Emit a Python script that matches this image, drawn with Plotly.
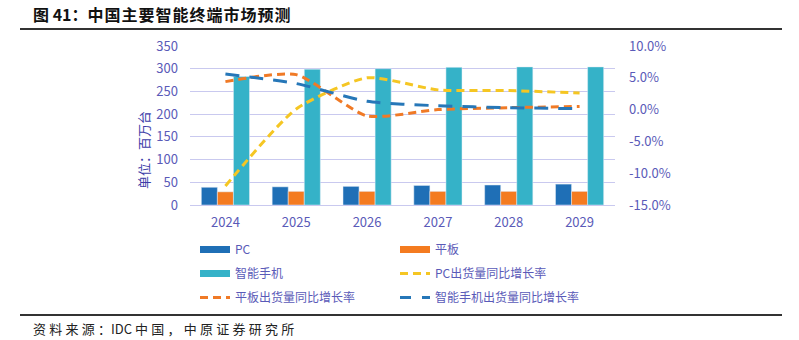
import plotly.graph_objects as go

years = ["2024", "2025", "2026", "2027", "2028", "2029"]
pc = [39, 40, 41, 43, 44, 46]
tablet = [29, 30, 30, 30, 30, 30]
phone = [283, 299, 300, 303, 304, 304]
pc_growth = [-12.0, 0.1, 5.0, 3.1, 3.0, 2.6]
tablet_growth = [4.4, 5.5, -1.0, 0.0, 0.3, 0.5]
phone_growth = [5.6, 4.1, 1.3, 0.6, 0.3, 0.15]

W, H = 799, 340
L, R, T, B = 190, 615, 46, 205

def px(x):
    return (x - L) / (R - L)

def py(y):
    return (B - y) / (B - T)

def spaced(s, sp="\u200a"):
    return sp.join(list(s))

C_PC = "#1f6fb6"
C_TAB = "#f47b20"
C_PHONE = "#35b2c8"
C_YEL = "#f5c623"
C_BLU = "#2677b8"
C_ORG = "#f07a26"
TXT = "#5a5ab8"
FONT = "Noto Sans CJK SC"

fig = go.Figure()
fig.add_trace(go.Bar(x=years, y=pc, marker_color=C_PC, showlegend=False, name="PC"))
fig.add_trace(go.Bar(x=years, y=tablet, marker_color=C_TAB, showlegend=False, name="平板"))
fig.add_trace(go.Bar(x=years, y=phone, marker_color=C_PHONE, showlegend=False, name="智能手机"))

SM = 0.6
fig.add_trace(go.Scatter(x=years, y=pc_growth, yaxis="y2", mode="lines",
                         line=dict(color=C_YEL, width=3, dash="8px,5px", shape="spline", smoothing=SM),
                         showlegend=False))
fig.add_trace(go.Scatter(x=years, y=tablet_growth, yaxis="y2", mode="lines",
                         line=dict(color=C_ORG, width=3, dash="8px,5px", shape="spline", smoothing=SM),
                         showlegend=False))
fig.add_trace(go.Scatter(x=years, y=phone_growth, yaxis="y2", mode="lines",
                         line=dict(color=C_BLU, width=3, dash="14px,10px", shape="spline", smoothing=SM),
                         showlegend=False))

# legend entries
leg = [
    ("PC", dict(color=C_PC, width=7), "legend", "g1"),
    ("平板", dict(color=C_TAB, width=7), "legend2", "g2"),
    ("智能手机", dict(color=C_PHONE, width=7), "legend", "g3"),
    ("PC出货量同比增长率", dict(color=C_YEL, width=3, dash="8px,5px"), "legend2", "g4"),
    ("平板出货量同比增长率", dict(color=C_ORG, width=3, dash="8px,5px"), "legend", "g5"),
    ("智能手机出货量同比增长率", dict(color=C_BLU, width=3, dash="11px,11px"), "legend2", "g6"),
]
for name, line, lg, grp in leg:
    fig.add_trace(go.Scatter(x=[None], y=[None], mode="lines", name=name, line=line,
                             legend=lg, legendgroup=grp, showlegend=True, hoverinfo="skip"))

right_vals = [-15, -10, -5, 0, 5, 10]
right_text = ["-15.0%", "-10.0%", "-5.0%", "0.0%", "5.0%", "10.0%"]

legend_common = dict(orientation="v", bgcolor="rgba(0,0,0,0)", font=dict(size=12, color=TXT, family=FONT),
                     xanchor="left", yanchor="top", tracegroupgap=5, itemwidth=30)

fig.update_layout(
    width=W, height=H,
    margin=dict(l=L, r=W - R, t=T, b=H - B),
    paper_bgcolor="white", plot_bgcolor="white",
    barmode="group", bargap=0.32, bargroupgap=0,
    font=dict(family=FONT, color=TXT, size=12),
    xaxis=dict(type="category", showgrid=False, showline=False, ticks="",
               tickfont=dict(size=13, color=TXT), ticklabelstandoff=8),
    yaxis=dict(range=[0, 350], dtick=50, showgrid=True, gridcolor="#c9c9ef", gridwidth=1,
               zeroline=True, zerolinecolor="#c9c9ef", zerolinewidth=1,
               tickfont=dict(size=13, color=TXT), ticks="", ticklabelstandoff=11),
    yaxis2=dict(range=[-15, 10], overlaying="y", side="right", showgrid=False, zeroline=False,
                tickvals=right_vals, ticktext=right_text, tickfont=dict(size=13, color=TXT),
                ticks="", ticklabelstandoff=13),
    legend=dict(x=px(195), y=py(235), **legend_common),
    legend2=dict(x=px(395), y=py(235), **legend_common),
    showlegend=True,
)

fig.add_annotation(text="<b>" + spaced("图") + " 41：" + spaced("中国主要智能终端市场预测") + "</b>",
                   xref="paper", yref="paper",
                   x=px(31), y=py(14), xanchor="left", yanchor="middle", showarrow=False,
                   font=dict(size=16, color="#111111", family=FONT))
fig.add_annotation(text=spaced("资料来源：", "\u2005") + "IDC " + spaced("中国，中原证券研究所", "\u2005"),
                   xref="paper", yref="paper",
                   x=px(31), y=py(328), xanchor="left", yanchor="middle", showarrow=False,
                   font=dict(size=13, color="#222222", family=FONT))
fig.add_annotation(text="单位：百万台", xref="paper", yref="paper", textangle=-90,
                   x=px(143), y=py(150), xanchor="center", yanchor="middle", showarrow=False,
                   font=dict(size=13, color="#3c3ca8", family=FONT))

fig.add_shape(type="line", xref="paper", yref="paper", x0=px(20), x1=px(782), y0=py(29), y1=py(29),
              line=dict(color="#333333", width=2))
fig.add_shape(type="line", xref="paper", yref="paper", x0=px(20), x1=px(782), y0=py(315), y1=py(315),
              line=dict(color="#333333", width=2))

fig.write_html("out.html")
